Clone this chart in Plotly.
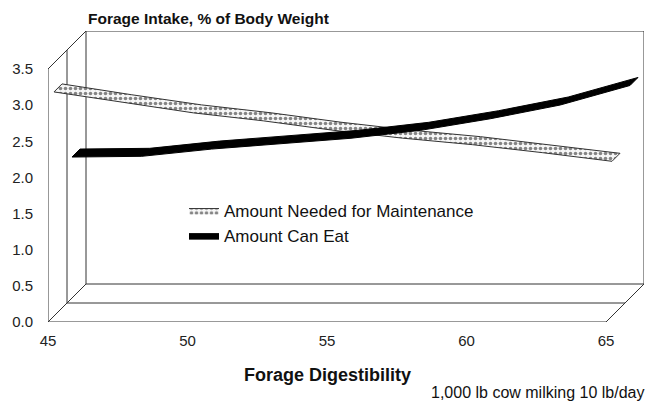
import plotly.graph_objects as go

# ---------------- data ----------------
digestibility = [45, 47.5, 50, 52.5, 55, 57.5, 60, 62.5, 65]
needed_maintenance = [3.10, 2.95, 2.81, 2.70, 2.57, 2.46, 2.37, 2.26, 2.14]
amount_can_eat = [1.95, 1.96, 2.06, 2.14, 2.21, 2.32, 2.48, 2.67, 2.94]
series_names = ["Amount Needed for Maintenance", "Amount Can Eat"]
x_ticks = [45, 50, 55, 60, 65]
y_ticks = [0.0, 0.5, 1.0, 1.5, 2.0, 2.5, 3.0, 3.5]
title_text = "Forage Intake, % of Body Weight"
x_title = "Forage Digestibility"
note_text = "1,000 lb cow milking 10 lb/day"

# ---------------- geometry (pixels) ----------------
W, H = 647, 406
X_LEFT, X_RIGHT = 48, 606      # front plane x extent
Y_BOTTOM, Y_TOP = 322, 69      # front plane y extent
DEPTH = 38                     # 3-D depth offset in px
X_MIN, X_MAX = 45, 65
Y_MIN, Y_MAX = 0.0, 3.5

px_x = (X_RIGHT - X_LEFT) / (X_MAX - X_MIN)
px_y = (Y_BOTTOM - Y_TOP) / (Y_MAX - Y_MIN)
plot_right = X_RIGHT + DEPTH
plot_top = Y_TOP - DEPTH
x_range = [X_MIN, X_MIN + (plot_right - X_LEFT) / px_x]
y_range = [Y_MIN, Y_MIN + (Y_BOTTOM - plot_top) / px_y]
paper_w = plot_right - X_LEFT
paper_h = Y_BOTTOM - plot_top


def ox(d):
    return d / px_x


def oy(d):
    return d / px_y


def ribbon(xs, ys, d_front, d_back):
    fx = [x + ox(d_front) for x in xs]
    fy = [y + oy(d_front) for y in ys]
    bx = [x + ox(d_back) for x in xs][::-1]
    by = [y + oy(d_back) for y in ys][::-1]
    return fx + bx + [fx[0]], fy + by + [fy[0]]


fig = go.Figure()

mx, my = ribbon(digestibility, needed_maintenance, 6, 14)
fig.add_trace(go.Scatter(
    x=mx, y=my, mode="lines", fill="toself", name=series_names[0],
    line=dict(color="#333333", width=1),
    fillcolor="#d8d8d8",
    fillpattern=dict(shape=".", fgcolor="#111111", bgcolor="#f6f6f6",
                     size=5, solidity=0.4),
    hoverinfo="skip",
))
cx, cy = ribbon(digestibility, amount_can_eat, 24, 32)
fig.add_trace(go.Scatter(
    x=cx, y=cy, mode="lines", fill="toself", name=series_names[1],
    line=dict(color="#000000", width=1),
    fillcolor="#000000",
    hoverinfo="skip",
))

# ---------------- 3-D frame ----------------
frame = []


def seg(x0, y0, x1, y1):
    frame.append(dict(type="line", xref="x", yref="y", x0=x0, y0=y0, x1=x1, y1=y1,
                      line=dict(color="#333333", width=1), layer="below"))


D, h = DEPTH, DEPTH / 2
seg(X_MIN, Y_MIN, X_MIN, Y_MAX)
seg(X_MIN, Y_MAX, X_MIN + ox(D), Y_MAX + oy(D))
seg(X_MIN + ox(h), Y_MIN + oy(h), X_MIN + ox(h), Y_MAX + oy(h))
seg(X_MIN + ox(D), Y_MIN + oy(D), X_MIN + ox(D), Y_MAX + oy(D))
seg(X_MIN + ox(D), Y_MAX + oy(D), X_MAX + ox(D), Y_MAX + oy(D))
seg(X_MAX + ox(D), Y_MIN + oy(D), X_MAX + ox(D), Y_MAX + oy(D))
seg(X_MIN, Y_MIN, X_MAX, Y_MIN)
seg(X_MIN + ox(h), Y_MIN + oy(h), X_MAX + ox(h), Y_MIN + oy(h))
seg(X_MIN + ox(D), Y_MIN + oy(D), X_MAX + ox(D), Y_MIN + oy(D))
seg(X_MIN, Y_MIN, X_MIN + ox(D), Y_MIN + oy(D))
seg(X_MAX, Y_MIN, X_MAX + ox(D), Y_MIN + oy(D))

font_main = "Liberation Sans, Arial, sans-serif"

fig.update_layout(
    width=W, height=H,
    margin=dict(l=X_LEFT, r=W - plot_right, t=plot_top, b=H - Y_BOTTOM, pad=0),
    paper_bgcolor="white", plot_bgcolor="white",
    showlegend=True,
    shapes=frame,
    title=dict(text="<b>" + title_text + "</b>", xref="container", yref="container",
               x=88 / W, xanchor="left", y=1 - 19 / H, yanchor="middle",
               font=dict(family=font_main, size=15.5, color="#111111")),
    legend=dict(x=(184 - X_LEFT) / paper_w, y=(Y_BOTTOM - 193) / paper_h,
                xanchor="left", yanchor="top", bgcolor="rgba(0,0,0,0)",
                font=dict(family=font_main, size=17, color="#111111"),
                itemwidth=30, tracegroupgap=0),
    xaxis=dict(range=x_range, tickvals=x_ticks, ticktext=[str(v) for v in x_ticks],
               showgrid=False, zeroline=False, showline=False, ticks="",
               ticklabelstandoff=8,
               tickfont=dict(family=font_main, size=15, color="#222222")),
    yaxis=dict(range=y_range, tickvals=y_ticks, ticktext=["%.1f" % v for v in y_ticks],
               showgrid=False, zeroline=False, showline=False, ticks="",
               ticklabelstandoff=14,
               tickfont=dict(family=font_main, size=15, color="#222222")),
    annotations=[
        dict(text="<b>" + x_title + "</b>", xref="x", yref="paper",
             x=(X_MIN + X_MAX) / 2, y=-(375 - Y_BOTTOM) / paper_h,
             xanchor="center", yanchor="middle", showarrow=False,
             font=dict(family=font_main, size=18, color="#111111")),
        dict(text=note_text, xref="paper", yref="paper",
             x=(429 - X_LEFT) / paper_w, y=-(392 - Y_BOTTOM) / paper_h,
             xanchor="left", yanchor="middle", showarrow=False,
             font=dict(family=font_main, size=16, color="#111111")),
    ],
)

fig.write_html("out.html", config={"displayModeBar": False},
               post_script="document.body.style.margin='0';document.body.style.overflow='hidden';")
